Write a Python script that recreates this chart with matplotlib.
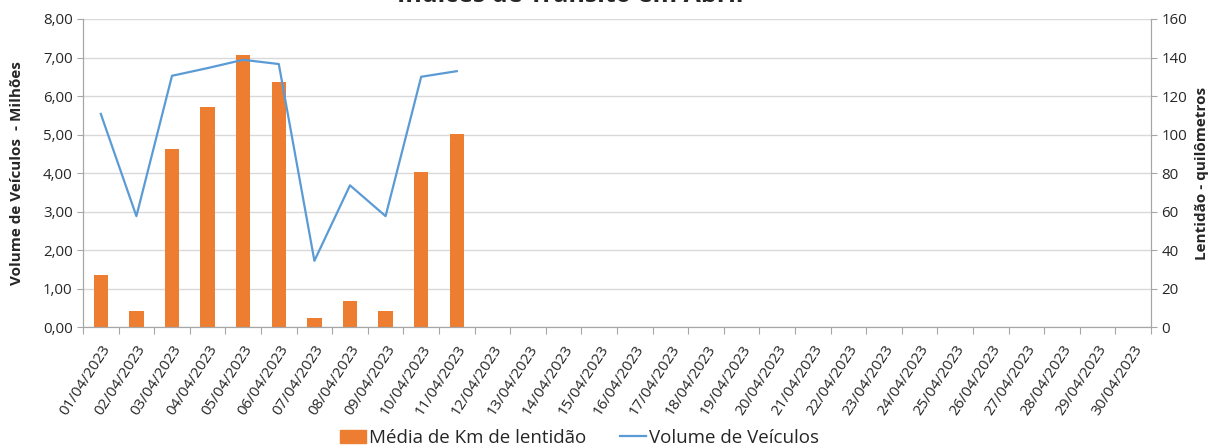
import matplotlib
matplotlib.use("Agg")
import matplotlib.pyplot as plt
from matplotlib.lines import Line2D
from matplotlib.patches import Patch
import numpy as np

plt.rcParams['font.family'] = ['Open Sans', 'DejaVu Sans']

dates = [f"{d:02d}/04/2023" for d in range(1, 31)]
lentidao = [1.34, 0.42, 4.62, 5.72, 7.06, 6.36, 0.24, 0.67, 0.42, 4.03, 5.01]
volume = [110.7, 57.6, 130.5, 134.5, 138.8, 136.6, 34.4, 73.6, 57.6, 130.0, 132.9]

bar_color = '#ED7D31'
line_color = '#5B9BD5'
grid_color = '#D9D9D9'
axis_color = '#A6A6A6'
text_color = '#262626'

fig = plt.figure(figsize=(12.10, 4.48), dpi=100)
ax = fig.add_axes([0.0686, 0.270, 0.8826, 0.6876])
ax2 = ax.twinx()

x = np.arange(len(dates))
ax.bar(x[:len(lentidao)], lentidao, width=0.4, color=bar_color, zorder=2)
ax2.plot(x[:len(volume)], volume, color=line_color, lw=1.6, zorder=3)

ax.set_xlim(-0.5, len(dates) - 0.5)
ax.set_ylim(0, 8)
ax2.set_ylim(0, 160)
ax.set_yticks(np.arange(0, 8.01, 1))
ax.set_yticklabels([f"{v:.2f}".replace('.', ',') for v in np.arange(0, 8.01, 1)])
ax2.set_yticks(np.arange(0, 161, 20))

ax.yaxis.grid(True, color=grid_color, lw=1.0, zorder=0)
ax.set_axisbelow(True)

# category ticks between labels
ax.set_xticks(np.arange(-0.5, len(dates), 1))
ax.set_xticklabels([])
ax.set_xticks(x, minor=True)
ax.set_xticklabels(dates, minor=True, rotation=57, ha='right', rotation_mode='anchor',
                   fontsize=11, color=text_color)
ax.tick_params(axis='x', which='major', length=5, color=axis_color)
ax.tick_params(axis='x', which='minor', length=0, pad=11)

ax.tick_params(axis='y', length=4, color=axis_color, labelsize=10.8, labelcolor=text_color)
ax2.tick_params(axis='y', length=4, color=axis_color, labelsize=10.8, labelcolor=text_color)

for a in (ax, ax2):
    a.spines['top'].set_visible(False)
    for s in ('left', 'right', 'bottom'):
        a.spines[s].set_color(axis_color)

ax.set_ylabel("Volume de Veículos  - Milhões", fontsize=11, fontweight='bold', color=text_color,
              va='center')
ax2.set_ylabel("Lentidão - quilômetros", fontsize=11, fontweight='bold', color=text_color,
               rotation=90, va='center')
ax.yaxis.set_label_coords(-0.0615, 0.5)
ax2.yaxis.set_label_coords(1.0475, 0.5)

fig.text(0.471, 1 - 2 / 448, "Índices de Trânsito em Abril", ha='center', va='baseline',
         fontsize=18, fontweight='bold', color=text_color)

handles = [Patch(color=bar_color), Line2D([0], [0], color=line_color, lw=1.6)]
fig.legend(handles, ["Média de Km de lentidão", "Volume de Veículos"],
           loc='center', bbox_to_anchor=(0.479, 1 - 438 / 448), ncol=2, frameon=False,
           fontsize=13.5, handlelength=1.4, handletextpad=0.15, columnspacing=1.8,
           labelcolor=text_color)

fig.savefig("out.png", dpi=100)
